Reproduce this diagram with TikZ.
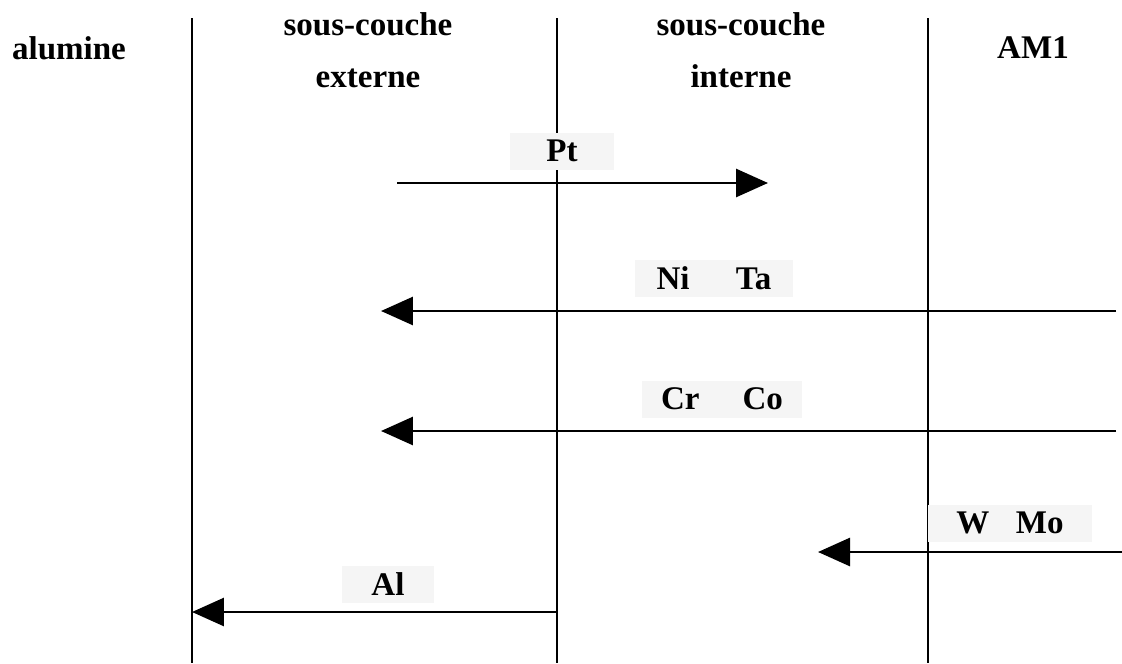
\documentclass[tikz,border=0pt]{standalone}
\usepackage{fontspec}
\setmainfont{Liberation Serif}
\usetikzlibrary{arrows.meta}

\begin{document}
\begin{tikzpicture}[
        x=0.02cm, y=-0.02cm,
        >={Triangle[length=0.64cm, width=0.56cm]},
        every node/.style={font=\fontsize{18.8}{29.5}\selectfont\bfseries},
        interface/.style={line width=1.4pt},
        flux/.style={line width=1.6pt, ->},
        species/.style={fill=gray!8, inner sep=0pt, minimum height=0.74cm}
    ]
    \useasboundingbox (0,0) rectangle (1122,663);

    % zones
    \node[align=center] (alumine) at (69,48) {alumine};
    \node[align=center] (ext) at (368,50) {sous-couche\\externe};
    \node[align=center] (int) at (741,50) {sous-couche\\interne};
    \node[align=center] (am1) at (1033,48) {AM1};

    % interfaces
    \coordinate (i1top) at (192,18);  \coordinate (i1bot) at (192,663);
    \coordinate (i2top) at (557,18);  \coordinate (i2bot) at (557,663);
    \coordinate (i3top) at (928,18);  \coordinate (i3bot) at (928,663);
    \draw[interface] (i1top) -- (i1bot);
    \draw[interface] (i2top) -- (i2bot);
    \draw[interface] (i3top) -- (i3bot);

    % diffusing elements
    \node[species, minimum width=2.08cm] (pt) at (562,151) {Pt};
    \node[species, minimum width=3.16cm] (nita) at (714,278) {Ni\hspace{1.4em}Ta};
    \node[species, minimum width=3.2cm] (crco) at (722,399) {Cr\hspace{1.3em}Co};
    \node[species, minimum width=3.3cm] (wmo) at (1010,523) {W\hspace{0.8em}Mo};
    \node[species, minimum width=1.86cm] (al) at (388,584) {Al};

    \coordinate (ptA) at (397,183);   \coordinate (ptB) at (768,183);
    \coordinate (nitaA) at (1116,311); \coordinate (nitaB) at (381,311);
    \coordinate (crcoA) at (1116,431); \coordinate (crcoB) at (381,431);
    \coordinate (wmoA) at (1122,552); \coordinate (wmoB) at (818,552);
    \coordinate (alA) at (557,612);   \coordinate (alB) at (192,612);

    \path[flux] (ptA) edge (ptB)
        (nitaA) edge (nitaB)
        (crcoA) edge (crcoB)
        (wmoA) edge (wmoB)
        (alA) edge (alB);
\end{tikzpicture}
\end{document}
